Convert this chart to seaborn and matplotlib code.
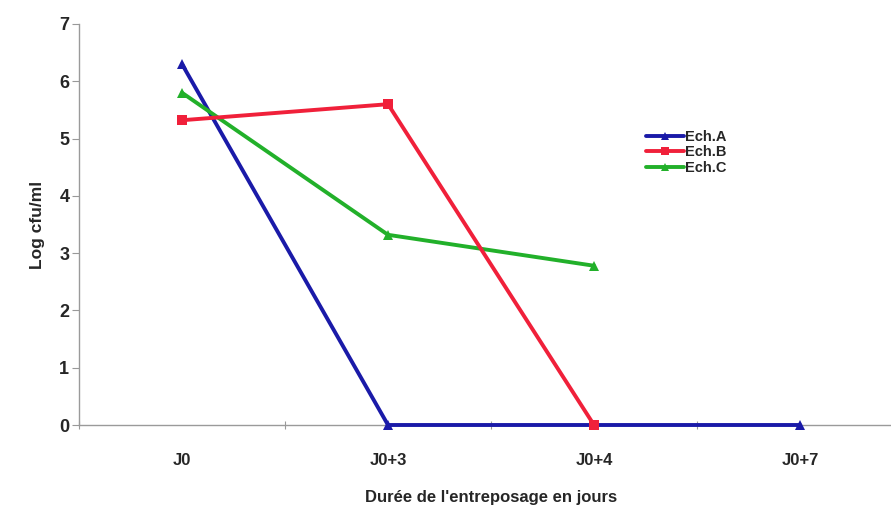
import numpy as np
import pandas as pd
import matplotlib
matplotlib.use("Agg")
import matplotlib.pyplot as plt
from matplotlib.ticker import FixedLocator
import seaborn as sns

# Storage duration categories and log counts for each sample
jours = ["J0", "J0+3", "J0+4", "J0+7"]
ech_a = [6.3, 0.0, 0.0, 0.0]
ech_b = [5.32, 5.6, 0.0, np.nan]
ech_c = [5.8, 3.32, 2.78, np.nan]

series = {"Ech.A": ech_a, "Ech.B": ech_b, "Ech.C": ech_c}
couleurs = {"Ech.A": "#1a1aa8", "Ech.B": "#f0203a", "Ech.C": "#22b02a"}
marqueurs = {"Ech.A": "^", "Ech.B": "s", "Ech.C": "^"}

df = pd.DataFrame(
    [(j, nom, v) for nom, vals in series.items() for j, v in zip(jours, vals)],
    columns=["jour", "echantillon", "log"],
).dropna()
df["jour"] = pd.Categorical(df["jour"], categories=jours, ordered=True)

sns.set_theme(style="white")
plt.rcParams["font.family"] = ["Liberation Sans", "DejaVu Sans"]
plt.rcParams["font.weight"] = "bold"

fig = plt.figure(figsize=(8.91, 5.21), dpi=100)
ax = fig.add_axes([79 / 891, 96 / 521, 824 / 891, 401 / 521])

sns.lineplot(
    data=df, x="jour", y="log", hue="echantillon", style="echantillon",
    palette=couleurs, markers=marqueurs, dashes=False, linewidth=2.8,
    markersize=7.5, markeredgewidth=0, ax=ax, sort=False,
)
for ln in ax.lines:
    ln.set_clip_on(False)
# curves drawn above the axis line; blue under red along the baseline
ax.lines[0].set_zorder(3.1)
ax.lines[1].set_zorder(3.3)
ax.lines[2].set_zorder(3.2)

ax.set_xlim(-0.5, 3.5)
ax.set_ylim(0, 7)
ax.set_yticks(range(0, 8))
ax.set_xticks(range(len(jours)))
ax.set_xticklabels(jours)
ax.xaxis.set_minor_locator(FixedLocator([-0.5, 0.5, 1.5, 2.5, 3.5]))
ax.tick_params(axis="x", which="major", length=0, pad=20, labelsize=12)
ax.tick_params(axis="x", which="minor", length=6, width=0.8, color="#999999",
               direction="inout", bottom=True)
ax.tick_params(axis="y", which="major", length=5, width=0.8, color="#999999",
               direction="out", left=True, pad=2, labelsize=13)
for lab in ax.get_xticklabels() + ax.get_yticklabels():
    lab.set_fontweight("bold")

for side in ["top", "right"]:
    ax.spines[side].set_visible(False)
for side in ["left", "bottom"]:
    ax.spines[side].set_color("#9a9a9a")
    ax.spines[side].set_linewidth(1.0)

ax.set_xlabel("Durée de l'entreposage en jours", fontsize=12, fontweight="bold",
              labelpad=16)
ax.set_ylabel("Log cfu/ml", fontsize=12.5, fontweight="bold", labelpad=10)

leg = ax.legend(loc="upper left", bbox_to_anchor=((640 - 79) / 824, (521 - 124 - 96) / 401),
                frameon=False, fontsize=10.5, handlelength=2.6, handletextpad=0.1,
                labelspacing=0.1, borderaxespad=0, markerscale=0.8)
for t in leg.get_texts():
    t.set_fontweight("bold")

fig.savefig("out.png", dpi=100, facecolor="white")
